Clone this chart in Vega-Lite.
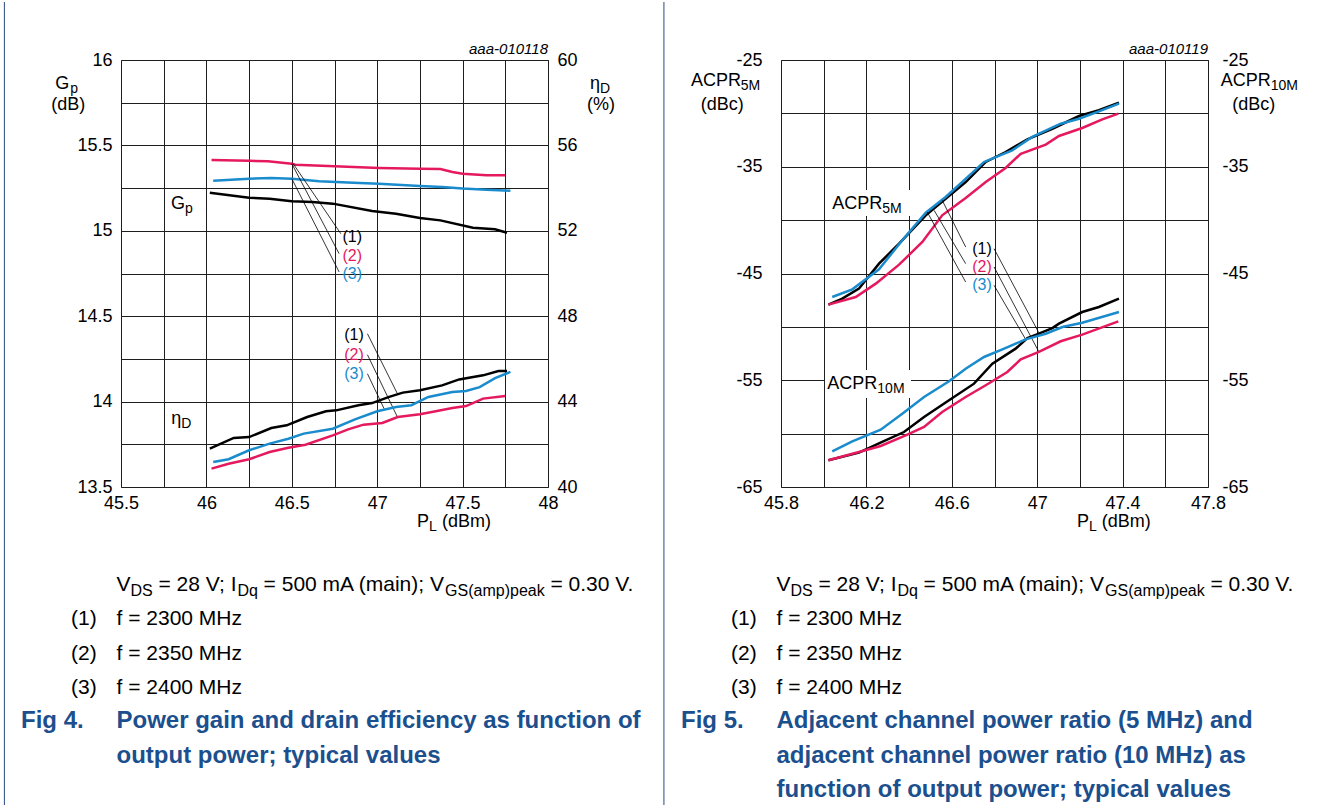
{
  "$schema": "https://vega.github.io/schema/vega-lite/v6.json",
  "padding": {"left": 3, "top": 0, "right": 0, "bottom": 0},
  "autosize": {"type": "pad"},
  "background": "white",
  "bounds": "flush",
  "columns": 2,
  "spacing": {"row": 104, "column": 233},
  "datasets": {
    "gp": [
      {"s":"2","p":46.03,"g":15.415},{"s":"2","p":46.25,"g":15.41},{"s":"2","p":46.36,"g":15.407},{"s":"2","p":46.5,"g":15.393},{"s":"2","p":46.52,"g":15.387},{"s":"2","p":46.75,"g":15.378},{"s":"2","p":47.01,"g":15.368},{"s":"2","p":47.25,"g":15.364},{"s":"2","p":47.37,"g":15.362},{"s":"2","p":47.44,"g":15.344},{"s":"2","p":47.5,"g":15.334},{"s":"2","p":47.64,"g":15.325},{"s":"2","p":47.75,"g":15.325},
      {"s":"3","p":46.04,"g":15.293},{"s":"3","p":46.25,"g":15.305},{"s":"3","p":46.38,"g":15.309},{"s":"3","p":46.5,"g":15.305},{"s":"3","p":46.66,"g":15.29},{"s":"3","p":46.86,"g":15.282},{"s":"3","p":47.01,"g":15.276},{"s":"3","p":47.25,"g":15.262},{"s":"3","p":47.38,"g":15.256},{"s":"3","p":47.5,"g":15.247},{"s":"3","p":47.64,"g":15.24},{"s":"3","p":47.78,"g":15.235},
      {"s":"1","p":46.02,"g":15.223},{"s":"1","p":46.25,"g":15.194},{"s":"1","p":46.37,"g":15.188},{"s":"1","p":46.5,"g":15.173},{"s":"1","p":46.62,"g":15.169},{"s":"1","p":46.74,"g":15.159},{"s":"1","p":46.97,"g":15.116},{"s":"1","p":47.11,"g":15.1},{"s":"1","p":47.25,"g":15.075},{"s":"1","p":47.37,"g":15.061},{"s":"1","p":47.56,"g":15.018},{"s":"1","p":47.69,"g":15.009},{"s":"1","p":47.76,"g":14.989}
    ],
    "eta": [
      {"s":"1","p":46.02,"e":41.8},{"s":"1","p":46.16,"e":42.3},{"s":"1","p":46.25,"e":42.34},{"s":"1","p":46.38,"e":42.76},{"s":"1","p":46.47,"e":42.89},{"s":"1","p":46.59,"e":43.28},{"s":"1","p":46.7,"e":43.55},{"s":"1","p":46.76,"e":43.59},{"s":"1","p":46.89,"e":43.83},{"s":"1","p":46.97,"e":43.93},{"s":"1","p":47.07,"e":44.22},{"s":"1","p":47.15,"e":44.42},{"s":"1","p":47.25,"e":44.53},{"s":"1","p":47.38,"e":44.76},{"s":"1","p":47.48,"e":45.04},{"s":"1","p":47.62,"e":45.23},{"s":"1","p":47.71,"e":45.43},{"s":"1","p":47.76,"e":45.43},
      {"s":"3","p":46.04,"e":41.17},{"s":"3","p":46.13,"e":41.3},{"s":"3","p":46.25,"e":41.72},{"s":"3","p":46.37,"e":42.03},{"s":"3","p":46.48,"e":42.26},{"s":"3","p":46.57,"e":42.5},{"s":"3","p":46.74,"e":42.73},{"s":"3","p":46.87,"e":43.17},{"s":"3","p":47.0,"e":43.55},{"s":"3","p":47.11,"e":43.75},{"s":"3","p":47.2,"e":43.83},{"s":"3","p":47.3,"e":44.22},{"s":"3","p":47.44,"e":44.45},{"s":"3","p":47.52,"e":44.5},{"s":"3","p":47.6,"e":44.68},{"s":"3","p":47.69,"e":45.1},{"s":"3","p":47.78,"e":45.39},
      {"s":"2","p":46.03,"e":40.86},{"s":"2","p":46.13,"e":41.09},{"s":"2","p":46.25,"e":41.3},{"s":"2","p":46.37,"e":41.64},{"s":"2","p":46.48,"e":41.84},{"s":"2","p":46.58,"e":41.98},{"s":"2","p":46.74,"e":42.42},{"s":"2","p":46.83,"e":42.7},{"s":"2","p":46.92,"e":42.92},{"s":"2","p":47.03,"e":43.0},{"s":"2","p":47.12,"e":43.28},{"s":"2","p":47.25,"e":43.41},{"s":"2","p":47.32,"e":43.51},{"s":"2","p":47.44,"e":43.7},{"s":"2","p":47.52,"e":43.79},{"s":"2","p":47.62,"e":44.14},{"s":"2","p":47.75,"e":44.26}
    ],
    "a5": [
      {"s":"1","p":46.022,"v":-47.92},{"s":"1","p":46.087,"v":-47.36},{"s":"1","p":46.165,"v":-46.42},{"s":"1","p":46.259,"v":-44.08},{"s":"1","p":46.353,"v":-42.21},{"s":"1","p":46.478,"v":-39.55},{"s":"1","p":46.571,"v":-37.99},{"s":"1","p":46.665,"v":-36.43},{"s":"1","p":46.759,"v":-34.55},{"s":"1","p":46.852,"v":-33.62},{"s":"1","p":46.954,"v":-32.43},{"s":"1","p":47.071,"v":-31.44},{"s":"1","p":47.196,"v":-30.25},{"s":"1","p":47.289,"v":-29.71},{"s":"1","p":47.383,"v":-29.0},
      {"s":"3","p":46.04,"v":-47.2},{"s":"3","p":46.134,"v":-46.48},{"s":"3","p":46.259,"v":-44.61},{"s":"3","p":46.368,"v":-41.89},{"s":"3","p":46.478,"v":-39.3},{"s":"3","p":46.571,"v":-37.83},{"s":"3","p":46.649,"v":-36.43},{"s":"3","p":46.751,"v":-34.55},{"s":"3","p":46.883,"v":-33.46},{"s":"3","p":46.977,"v":-32.21},{"s":"3","p":47.11,"v":-30.97},{"s":"3","p":47.196,"v":-30.5},{"s":"3","p":47.289,"v":-29.81},{"s":"3","p":47.383,"v":-29.09},
      {"s":"2","p":46.022,"v":-47.92},{"s":"2","p":46.15,"v":-47.2},{"s":"2","p":46.244,"v":-45.95},{"s":"2","p":46.353,"v":-44.17},{"s":"2","p":46.462,"v":-42.05},{"s":"2","p":46.555,"v":-39.55},{"s":"2","p":46.665,"v":-37.93},{"s":"2","p":46.759,"v":-36.43},{"s":"2","p":46.852,"v":-35.12},{"s":"2","p":46.923,"v":-33.78},{"s":"2","p":47.04,"v":-32.93},{"s":"2","p":47.102,"v":-32.12},{"s":"2","p":47.211,"v":-31.37},{"s":"2","p":47.305,"v":-30.56},{"s":"2","p":47.38,"v":-30.03}
    ],
    "a10": [
      {"s":"1","p":46.022,"v":-62.5},{"s":"1","p":46.165,"v":-61.78},{"s":"1","p":46.274,"v":-60.78},{"s":"1","p":46.376,"v":-59.85},{"s":"1","p":46.47,"v":-58.44},{"s":"1","p":46.587,"v":-56.88},{"s":"1","p":46.704,"v":-55.32},{"s":"1","p":46.79,"v":-53.45},{"s":"1","p":46.899,"v":-52.04},{"s":"1","p":46.954,"v":-51.04},{"s":"1","p":47.008,"v":-50.64},{"s":"1","p":47.071,"v":-50.11},{"s":"1","p":47.102,"v":-49.7},{"s":"1","p":47.211,"v":-48.61},{"s":"1","p":47.289,"v":-48.14},{"s":"1","p":47.383,"v":-47.36},
      {"s":"3","p":46.04,"v":-61.66},{"s":"3","p":46.134,"v":-60.72},{"s":"3","p":46.267,"v":-59.63},{"s":"3","p":46.368,"v":-58.13},{"s":"3","p":46.47,"v":-56.57},{"s":"3","p":46.587,"v":-55.1},{"s":"3","p":46.665,"v":-53.92},{"s":"3","p":46.751,"v":-52.82},{"s":"3","p":46.837,"v":-52.1},{"s":"3","p":46.946,"v":-51.17},{"s":"3","p":47.04,"v":-50.64},{"s":"3","p":47.118,"v":-50.01},{"s":"3","p":47.211,"v":-49.61},{"s":"3","p":47.383,"v":-48.61},
      {"s":"2","p":46.022,"v":-62.5},{"s":"2","p":46.165,"v":-61.72},{"s":"2","p":46.267,"v":-61.16},{"s":"2","p":46.384,"v":-60.16},{"s":"2","p":46.47,"v":-59.38},{"s":"2","p":46.555,"v":-57.97},{"s":"2","p":46.665,"v":-56.57},{"s":"2","p":46.759,"v":-55.47},{"s":"2","p":46.86,"v":-54.23},{"s":"2","p":46.923,"v":-53.04},{"s":"2","p":47.008,"v":-52.35},{"s":"2","p":47.11,"v":-51.35},{"s":"2","p":47.211,"v":-50.73},{"s":"2","p":47.38,"v":-49.48}
    ],
    "annL": [
      {"kind":"title","x":45.1156,"y":15.8595,"text":"G"},
      {"kind":"sub","x":45.2034,"y":15.8595,"text":"p"},
      {"kind":"title","x":45.0922,"y":15.7365,"text":"(dB)"},
      {"kind":"title","x":48.2458,"y":15.8595,"text":"η"},
      {"kind":"sub","x":48.3044,"y":15.8595,"text":"D"},
      {"kind":"title","x":48.2282,"y":15.7365,"text":"(%)"},
      {"kind":"title","x":47.2336,"y":13.295,"text":"P"},
      {"kind":"sub","x":47.3038,"y":13.295,"text":"L"},
      {"kind":"title","x":47.3787,"y":13.295,"text":"(dBm)"},
      {"kind":"title","x":45.7925,"y":15.1587,"text":"G"},
      {"kind":"sub","x":45.8745,"y":15.1587,"text":"p"},
      {"kind":"title","x":45.7943,"y":13.898,"text":"η"},
      {"kind":"sub","x":45.8528,"y":13.898,"text":"D"},
      {"kind":"num","s":"1","x":46.7965,"y":14.9637,"text":"(1)"},
      {"kind":"num","s":"2","x":46.7965,"y":14.8525,"text":"(2)"},
      {"kind":"num","s":"3","x":46.7965,"y":14.7489,"text":"(3)"},
      {"kind":"num","s":"1","x":46.8066,"y":14.3882,"text":"(1)"},
      {"kind":"num","s":"2","x":46.8066,"y":14.2746,"text":"(2)"},
      {"kind":"num","s":"3","x":46.8066,"y":14.1633,"text":"(3)"},
      {"kind":"code","x":48,"y":16.0644,"text":"aaa-010118"}
    ],
    "leadL": [
      {"x":46.508,"y":15.393,"x2":46.787,"y2":14.983},
      {"x":46.5,"y":15.393,"x2":46.777,"y2":14.866},
      {"x":46.5,"y":15.305,"x2":46.777,"y2":14.759},
      {"x":46.9428,"y":14.3975,"x2":47.1183,"y2":14.0463},
      {"x":46.9428,"y":14.2746,"x2":47.1183,"y2":13.9098},
      {"x":46.9428,"y":14.1633,"x2":47.0405,"y2":13.9584}
    ],
    "bordL": [
      {"x":44.8172,"y":16.3396,"y2":11.6265},
      {"x":48.6787,"y":16.3396,"y2":11.6265}
    ],
    "annR": [
      {"kind":"title","x":45.3784,"y":-26.967,"text":"ACPR"},
      {"kind":"sub","x":45.6112,"y":-26.967,"text":"5M"},
      {"kind":"title","x":45.4239,"y":-29.215,"text":"(dBc)"},
      {"kind":"title","x":47.8595,"y":-26.967,"text":"ACPR"},
      {"kind":"sub","x":48.0937,"y":-26.967,"text":"10M"},
      {"kind":"title","x":47.9138,"y":-29.215,"text":"(dBc)"},
      {"kind":"title","x":47.1864,"y":-68.279,"text":"P"},
      {"kind":"sub","x":47.2426,"y":-68.279,"text":"L"},
      {"kind":"title","x":47.3026,"y":-68.279,"text":"(dBm)"},
      {"kind":"title","x":46.0403,"y":-38.489,"text":"ACPR"},
      {"kind":"sub","x":46.2745,"y":-38.489,"text":"5M"},
      {"kind":"title","x":46.0169,"y":-55.351,"text":"ACPR"},
      {"kind":"sub","x":46.2511,"y":-55.351,"text":"10M"},
      {"kind":"num","s":"1","x":46.696,"y":-42.677,"text":"(1)"},
      {"kind":"num","s":"2","x":46.696,"y":-44.391,"text":"(2)"},
      {"kind":"num","s":"3","x":46.696,"y":-46.106,"text":"(3)"},
      {"kind":"code","x":47.8,"y":-23.97,"text":"aaa-010119"}
    ],
    "leadR": [
      {"x":46.555,"y":-38.14,"x2":46.665,"y2":-42.52},
      {"x":46.517,"y":-39.08,"x2":46.665,"y2":-44.08},
      {"x":46.485,"y":-39.24,"x2":46.665,"y2":-45.8},
      {"x":46.798,"y":-42.68,"x2":47.008,"y2":-50.57},
      {"x":46.798,"y":-44.39,"x2":47.008,"y2":-52.35},
      {"x":46.798,"y":-46.11,"x2":46.946,"y2":-51.17}
    ],
    "boxR": [
      {"x":46.0155,"y":-37.178,"x2":46.4096,"y2":-39.614},
      {"x":46.006,"y":-54.04,"x2":46.4089,"y2":-56.663}
    ],
    "capL": [
      {"line":0,"p1":"V","p2":"DS","p3":"= 28 V; I","p4":"Dq","p5":"= 500 mA (main); V","p6":"GS(amp)peak","p7":"= 0.30 V."},
      {"line":1,"num":"(1)","body":"f = 2300 MHz"},
      {"line":2,"num":"(2)","body":"f = 2350 MHz"},
      {"line":3,"num":"(3)","body":"f = 2400 MHz"},
      {"line":4,"fig":"Fig 4.","cap":"Power gain and drain efficiency as function of"},
      {"line":5,"cap":"output power; typical values"}
    ],
    "capR": [
      {"line":0,"p1":"V","p2":"DS","p3":"= 28 V; I","p4":"Dq","p5":"= 500 mA (main); V","p6":"GS(amp)peak","p7":"= 0.30 V."},
      {"line":1,"num":"(1)","body":"f = 2300 MHz"},
      {"line":2,"num":"(2)","body":"f = 2350 MHz"},
      {"line":3,"num":"(3)","body":"f = 2400 MHz"},
      {"line":4,"fig":"Fig 5.","cap":"Adjacent channel power ratio (5 MHz) and"},
      {"line":5,"cap":"adjacent channel power ratio (10 MHz) as"},
      {"line":6,"cap":"function of output power; typical values"}
    ]
  },
  "concat": [
    {
      "width": 427,
      "height": 427,
      "layer": [
        {
          "layer": [
            {
              "data": {"name": "gp"},
              "mark": {"type": "line", "strokeWidth": 2.5},
              "encoding": {
                "x": {"field": "p", "type": "quantitative", "title": null,
                  "scale": {"domain": [45.5, 48], "nice": false, "zero": false},
                  "axis": {"grid": true, "values": [45.5,45.75,46,46.25,46.5,46.75,47,47.25,47.5,47.75,48], "format": ".1~f", "labelExpr": "datum.value % 0.5 == 0 ? datum.label : ''", "labelPadding": 7}},
                "y": {"field": "g", "type": "quantitative", "title": null,
                  "scale": {"domain": [13.5, 16], "nice": false, "zero": false},
                  "axis": {"grid": true, "values": [13.5,13.75,14,14.25,14.5,14.75,15,15.25,15.5,15.75,16], "format": ".1~f", "labelExpr": "datum.value % 0.5 == 0 ? datum.label : ''", "labelPadding": 9}},
                "color": {"field": "s", "type": "nominal", "scale": {"domain": ["1","2","3"], "range": ["#000000","#e5195e","#1a8bcc"]}, "legend": null}
              }
            },
            {
              "data": {"name": "bordL"},
              "mark": {"type": "rule", "color": "#2b4a7f", "strokeWidth": 1},
              "encoding": {
                "x": {"field": "x", "type": "quantitative", "title": null},
                "y": {"field": "y", "type": "quantitative", "title": null},
                "y2": {"field": "y2"}
              }
            },
            {
              "data": {"name": "leadL"},
              "mark": {"type": "rule", "color": "#000", "strokeWidth": 0.8},
              "encoding": {
                "x": {"field": "x", "type": "quantitative", "title": null},
                "y": {"field": "y", "type": "quantitative", "title": null},
                "x2": {"field": "x2"},
                "y2": {"field": "y2"}
              }
            },
            {
              "data": {"name": "annL"},
              "transform": [{"filter": "datum.kind == 'title'"}],
              "mark": {"type": "text", "align": "left", "baseline": "middle", "fontSize": 18, "color": "#000"},
              "encoding": {
                "x": {"field": "x", "type": "quantitative", "title": null},
                "y": {"field": "y", "type": "quantitative", "title": null},
                "text": {"field": "text", "type": "nominal"}
              }
            },
            {
              "data": {"name": "annL"},
              "transform": [{"filter": "datum.kind == 'sub'"}],
              "mark": {"type": "text", "align": "left", "baseline": "middle", "fontSize": 14, "dy": 5, "color": "#000"},
              "encoding": {
                "x": {"field": "x", "type": "quantitative", "title": null},
                "y": {"field": "y", "type": "quantitative", "title": null},
                "text": {"field": "text", "type": "nominal"}
              }
            },
            {
              "data": {"name": "annL"},
              "transform": [{"filter": "datum.kind == 'num'"}],
              "mark": {"type": "text", "align": "left", "baseline": "middle", "fontSize": 16},
              "encoding": {
                "x": {"field": "x", "type": "quantitative", "title": null},
                "y": {"field": "y", "type": "quantitative", "title": null},
                "text": {"field": "text", "type": "nominal"},
                "color": {"field": "s", "type": "nominal", "legend": null}
              }
            },
            {
              "data": {"name": "annL"},
              "transform": [{"filter": "datum.kind == 'code'"}],
              "mark": {"type": "text", "align": "right", "baseline": "middle", "fontSize": 15, "fontStyle": "italic", "color": "#000"},
              "encoding": {
                "x": {"field": "x", "type": "quantitative", "title": null},
                "y": {"field": "y", "type": "quantitative", "title": null},
                "text": {"field": "text", "type": "nominal"}
              }
            }
          ]
        },
        {
          "layer": [
            {
              "data": {"name": "eta"},
              "mark": {"type": "line", "strokeWidth": 2.5},
              "encoding": {
                "x": {"field": "p", "type": "quantitative", "title": null},
                "y": {"field": "e", "type": "quantitative", "title": null,
                  "scale": {"domain": [40, 60], "nice": false, "zero": false},
                  "axis": {"orient": "right", "grid": false, "values": [40,44,48,52,56,60], "format": "d", "labelPadding": 9}},
                "color": {"field": "s", "type": "nominal", "scale": {"domain": ["1","2","3"], "range": ["#000000","#e5195e","#1a8bcc"]}, "legend": null}
              }
            }
          ]
        }
      ],
      "resolve": {"scale": {"y": "independent"}}
    },
    {
      "width": 427,
      "height": 427,
      "layer": [
        {
          "layer": [
            {
              "data": {"name": "a5"},
              "mark": {"type": "line", "strokeWidth": 2.5},
              "encoding": {
                "x": {"field": "p", "type": "quantitative", "title": null,
                  "scale": {"domain": [45.8, 47.8], "nice": false, "zero": false},
                  "axis": {"grid": true, "values": [45.8,46,46.2,46.4,46.6,46.8,47,47.2,47.4,47.6,47.8], "format": ".1~f", "labelExpr": "round(datum.value*10) % 4 == 2 ? datum.label : ''", "labelPadding": 7}},
                "y": {"field": "v", "type": "quantitative", "title": null,
                  "scale": {"domain": [-65, -25], "nice": false, "zero": false},
                  "axis": {"grid": true, "values": [-65,-60,-55,-50,-45,-40,-35,-30,-25], "format": "d", "labelExpr": "(datum.value + 25) % 10 == 0 ? replace(datum.label, '\u2212', '-') : ''", "labelPadding": 19}},
                "color": {"field": "s", "type": "nominal", "scale": {"domain": ["1","2","3"], "range": ["#000000","#e5195e","#1a8bcc"]}, "legend": null}
              }
            },
            {
              "data": {"name": "boxR"},
              "mark": {"type": "rect", "color": "white"},
              "encoding": {
                "x": {"field": "x", "type": "quantitative", "title": null},
                "y": {"field": "y", "type": "quantitative", "title": null},
                "x2": {"field": "x2"},
                "y2": {"field": "y2"}
              }
            },
            {
              "data": {"name": "leadR"},
              "mark": {"type": "rule", "color": "#000", "strokeWidth": 0.8},
              "encoding": {
                "x": {"field": "x", "type": "quantitative", "title": null},
                "y": {"field": "y", "type": "quantitative", "title": null},
                "x2": {"field": "x2"},
                "y2": {"field": "y2"}
              }
            },
            {
              "data": {"name": "annR"},
              "transform": [{"filter": "datum.kind == 'title'"}],
              "mark": {"type": "text", "align": "left", "baseline": "middle", "fontSize": 18, "color": "#000"},
              "encoding": {
                "x": {"field": "x", "type": "quantitative", "title": null},
                "y": {"field": "y", "type": "quantitative", "title": null},
                "text": {"field": "text", "type": "nominal"}
              }
            },
            {
              "data": {"name": "annR"},
              "transform": [{"filter": "datum.kind == 'sub'"}],
              "mark": {"type": "text", "align": "left", "baseline": "middle", "fontSize": 14, "dy": 5, "color": "#000"},
              "encoding": {
                "x": {"field": "x", "type": "quantitative", "title": null},
                "y": {"field": "y", "type": "quantitative", "title": null},
                "text": {"field": "text", "type": "nominal"}
              }
            },
            {
              "data": {"name": "annR"},
              "transform": [{"filter": "datum.kind == 'num'"}],
              "mark": {"type": "text", "align": "left", "baseline": "middle", "fontSize": 16},
              "encoding": {
                "x": {"field": "x", "type": "quantitative", "title": null},
                "y": {"field": "y", "type": "quantitative", "title": null},
                "text": {"field": "text", "type": "nominal"},
                "color": {"field": "s", "type": "nominal", "legend": null}
              }
            },
            {
              "data": {"name": "annR"},
              "transform": [{"filter": "datum.kind == 'code'"}],
              "mark": {"type": "text", "align": "right", "baseline": "middle", "fontSize": 15, "fontStyle": "italic", "color": "#000"},
              "encoding": {
                "x": {"field": "x", "type": "quantitative", "title": null},
                "y": {"field": "y", "type": "quantitative", "title": null},
                "text": {"field": "text", "type": "nominal"}
              }
            }
          ]
        },
        {
          "layer": [
            {
              "data": {"name": "a10"},
              "mark": {"type": "line", "strokeWidth": 2.5},
              "encoding": {
                "x": {"field": "p", "type": "quantitative", "title": null},
                "y": {"field": "v", "type": "quantitative", "title": null,
                  "scale": {"domain": [-65, -25], "nice": false, "zero": false},
                  "axis": {"orient": "right", "grid": false, "values": [-65,-55,-45,-35,-25], "format": "d", "labelExpr": "replace(datum.label, '\u2212', '-')", "labelPadding": 14}},
                "color": {"field": "s", "type": "nominal", "scale": {"domain": ["1","2","3"], "range": ["#000000","#e5195e","#1a8bcc"]}, "legend": null}
              }
            }
          ]
        }
      ],
      "resolve": {"scale": {"y": "independent"}}
    },
    {
      "width": 427,
      "height": 206,
      "view": {"stroke": null},
      "data": {"name": "capL"},
      "encoding": {
        "x": {"datum": 0, "type": "quantitative", "scale": {"domain": [0, 1]}, "axis": null},
        "y": {"field": "line", "type": "quantitative", "scale": {"domain": [0, 6], "reverse": true}, "axis": null}
      },
      "layer": [
        {"transform": [{"filter": "isValid(datum.p1)"}], "mark": {"type": "text", "align": "left", "baseline": "alphabetic", "fontSize": 21, "dx": -4.5, "color": "#000"}, "encoding": {"text": {"field": "p1", "type": "nominal"}}},
        {"transform": [{"filter": "isValid(datum.p2)"}], "mark": {"type": "text", "align": "left", "baseline": "alphabetic", "fontSize": 16, "dx": 9.5, "dy": 5, "color": "#000"}, "encoding": {"text": {"field": "p2", "type": "nominal"}}},
        {"transform": [{"filter": "isValid(datum.p3)"}], "mark": {"type": "text", "align": "left", "baseline": "alphabetic", "fontSize": 21, "dx": 37.5, "color": "#000"}, "encoding": {"text": {"field": "p3", "type": "nominal"}}},
        {"transform": [{"filter": "isValid(datum.p4)"}], "mark": {"type": "text", "align": "left", "baseline": "alphabetic", "fontSize": 16, "dx": 116.4, "dy": 5, "color": "#000"}, "encoding": {"text": {"field": "p4", "type": "nominal"}}},
        {"transform": [{"filter": "isValid(datum.p5)"}], "mark": {"type": "text", "align": "left", "baseline": "alphabetic", "fontSize": 21, "dx": 142.6, "color": "#000"}, "encoding": {"text": {"field": "p5", "type": "nominal"}}},
        {"transform": [{"filter": "isValid(datum.p6)"}], "mark": {"type": "text", "align": "left", "baseline": "alphabetic", "fontSize": 16, "dx": 324.1, "dy": 5, "color": "#000"}, "encoding": {"text": {"field": "p6", "type": "nominal"}}},
        {"transform": [{"filter": "isValid(datum.p7)"}], "mark": {"type": "text", "align": "left", "baseline": "alphabetic", "fontSize": 21, "dx": 429.5, "color": "#000"}, "encoding": {"text": {"field": "p7", "type": "nominal"}}},
        {"transform": [{"filter": "isValid(datum.num)"}], "mark": {"type": "text", "align": "left", "baseline": "alphabetic", "fontSize": 21, "dx": -50, "color": "#000"}, "encoding": {"text": {"field": "num", "type": "nominal"}}},
        {"transform": [{"filter": "isValid(datum.body)"}], "mark": {"type": "text", "align": "left", "baseline": "alphabetic", "fontSize": 21, "dx": -4.5, "color": "#000"}, "encoding": {"text": {"field": "body", "type": "nominal"}}},
        {"transform": [{"filter": "isValid(datum.fig)"}], "mark": {"type": "text", "align": "left", "baseline": "alphabetic", "fontSize": 24, "fontWeight": "bold", "dx": -100, "color": "#1c4f8d"}, "encoding": {"text": {"field": "fig", "type": "nominal"}}},
        {"transform": [{"filter": "isValid(datum.cap)"}], "mark": {"type": "text", "align": "left", "baseline": "alphabetic", "fontSize": 24, "fontWeight": "bold", "dx": -4.5, "color": "#1c4f8d"}, "encoding": {"text": {"field": "cap", "type": "nominal"}}}
      ]
    },
    {
      "width": 427,
      "height": 206,
      "view": {"stroke": null},
      "data": {"name": "capR"},
      "encoding": {
        "x": {"datum": 0, "type": "quantitative", "scale": {"domain": [0, 1]}, "axis": null},
        "y": {"field": "line", "type": "quantitative", "scale": {"domain": [0, 6], "reverse": true}, "axis": null}
      },
      "layer": [
        {"transform": [{"filter": "isValid(datum.p1)"}], "mark": {"type": "text", "align": "left", "baseline": "alphabetic", "fontSize": 21, "dx": -4.5, "color": "#000"}, "encoding": {"text": {"field": "p1", "type": "nominal"}}},
        {"transform": [{"filter": "isValid(datum.p2)"}], "mark": {"type": "text", "align": "left", "baseline": "alphabetic", "fontSize": 16, "dx": 9.5, "dy": 5, "color": "#000"}, "encoding": {"text": {"field": "p2", "type": "nominal"}}},
        {"transform": [{"filter": "isValid(datum.p3)"}], "mark": {"type": "text", "align": "left", "baseline": "alphabetic", "fontSize": 21, "dx": 37.5, "color": "#000"}, "encoding": {"text": {"field": "p3", "type": "nominal"}}},
        {"transform": [{"filter": "isValid(datum.p4)"}], "mark": {"type": "text", "align": "left", "baseline": "alphabetic", "fontSize": 16, "dx": 116.4, "dy": 5, "color": "#000"}, "encoding": {"text": {"field": "p4", "type": "nominal"}}},
        {"transform": [{"filter": "isValid(datum.p5)"}], "mark": {"type": "text", "align": "left", "baseline": "alphabetic", "fontSize": 21, "dx": 142.6, "color": "#000"}, "encoding": {"text": {"field": "p5", "type": "nominal"}}},
        {"transform": [{"filter": "isValid(datum.p6)"}], "mark": {"type": "text", "align": "left", "baseline": "alphabetic", "fontSize": 16, "dx": 324.1, "dy": 5, "color": "#000"}, "encoding": {"text": {"field": "p6", "type": "nominal"}}},
        {"transform": [{"filter": "isValid(datum.p7)"}], "mark": {"type": "text", "align": "left", "baseline": "alphabetic", "fontSize": 21, "dx": 429.5, "color": "#000"}, "encoding": {"text": {"field": "p7", "type": "nominal"}}},
        {"transform": [{"filter": "isValid(datum.num)"}], "mark": {"type": "text", "align": "left", "baseline": "alphabetic", "fontSize": 21, "dx": -50, "color": "#000"}, "encoding": {"text": {"field": "num", "type": "nominal"}}},
        {"transform": [{"filter": "isValid(datum.body)"}], "mark": {"type": "text", "align": "left", "baseline": "alphabetic", "fontSize": 21, "dx": -4.5, "color": "#000"}, "encoding": {"text": {"field": "body", "type": "nominal"}}},
        {"transform": [{"filter": "isValid(datum.fig)"}], "mark": {"type": "text", "align": "left", "baseline": "alphabetic", "fontSize": 24, "fontWeight": "bold", "dx": -100, "color": "#1c4f8d"}, "encoding": {"text": {"field": "fig", "type": "nominal"}}},
        {"transform": [{"filter": "isValid(datum.cap)"}], "mark": {"type": "text", "align": "left", "baseline": "alphabetic", "fontSize": 24, "fontWeight": "bold", "dx": -4.5, "color": "#1c4f8d"}, "encoding": {"text": {"field": "cap", "type": "nominal"}}}
      ]
    }
  ],
  "config": {
    "view": {"stroke": "#5a5a5a", "strokeWidth": 1},
    "mark": {"color": "#000"},
    "text": {"font": "Liberation Sans", "color": "#000"},
    "axis": {"domain": false, "ticks": false, "tickSize": 0, "labelFont": "Liberation Sans", "labelFontSize": 18, "labelColor": "#000", "labelFlush": false, "labelOverlap": false, "gridColor": "#1e1e1e", "gridWidth": 1, "gridOpacity": 1}
  }
}
